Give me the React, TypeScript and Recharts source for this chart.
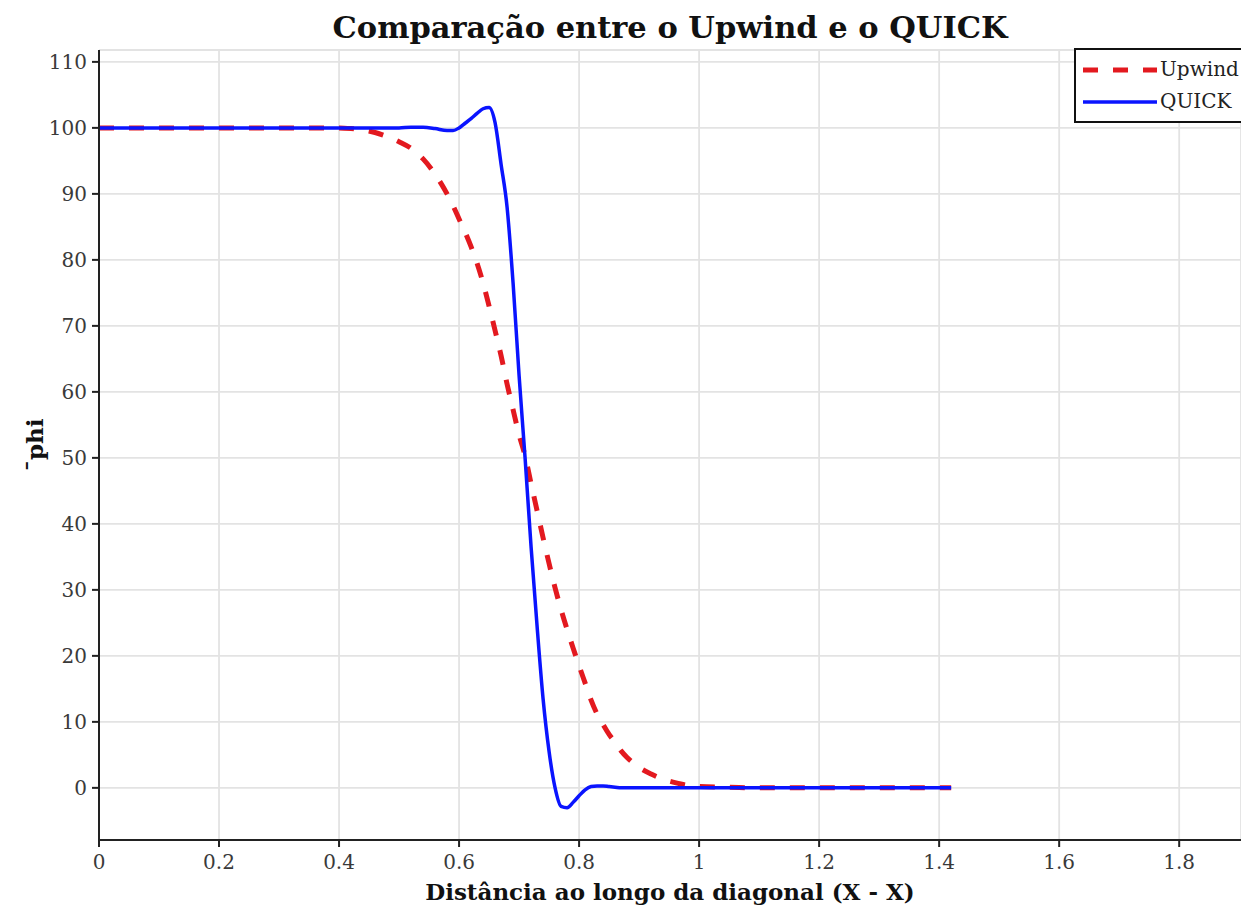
import React from 'react';
import { LineChart, Line, XAxis, YAxis, CartesianGrid, Legend, Label } from 'recharts';

// distance along the diagonal
const xValues = [
  0, 0.1, 0.2, 0.3, 0.4, 0.42, 0.44, 0.46, 0.48, 0.5, 0.52, 0.54, 0.56, 0.58,
  0.59, 0.6, 0.61, 0.62, 0.63, 0.64, 0.65, 0.66, 0.67, 0.68, 0.69, 0.7, 0.71, 0.72,
  0.73, 0.74, 0.75, 0.76, 0.77, 0.78, 0.79, 0.8, 0.81, 0.82, 0.83, 0.84, 0.85, 0.86,
  0.87, 0.88, 0.89, 0.9, 0.92, 0.94, 0.96, 0.98, 1.0, 1.05, 1.1, 1.2, 1.3, 1.42,
];

const upwind = [
  100, 100, 100, 100, 100, 99.9, 99.7, 99.3, 98.7, 97.9, 96.9, 95.3, 93.0, 90.0,
  88.2, 86.2, 84.2, 82, 79.5, 76.5, 73, 69.3, 65.5, 61.2, 57.3, 53.5, 50.3, 46.1,
  42, 37.9, 34, 30.3, 27, 24, 21.2, 18.5, 15.9, 13.3, 11.2, 9.6, 8.1, 6.9,
  5.6, 4.6, 3.8, 3.1, 2.1, 1.3, 0.8, 0.4, 0.2, 0.1, 0, 0, 0, 0,
];

const quick = [
  100, 100, 100, 100, 100, 100, 100, 100, 100, 100, 100.1, 100.1, 99.9, 99.6,
  99.6, 100, 100.7, 101.4, 102.2, 102.9, 103.1, 100.8, 94.5, 88, 76.5, 62.5, 50, 36.5,
  24.5, 13.5, 5.5, 0, -2.8, -3.0, -2.2, -1.2, -0.3, 0.2, 0.3, 0.3, 0.2, 0.1,
  0, 0, 0, 0, 0, 0, 0, 0, 0, 0, 0, 0, 0, 0,
];

const xTicks = [0, 0.2, 0.4, 0.6, 0.8, 1, 1.2, 1.4, 1.6, 1.8];
const yTicks = [0, 10, 20, 30, 40, 50, 60, 70, 80, 90, 100, 110];

const data = xValues.map((x, i) => ({ x, Upwind: upwind[i], QUICK: quick[i] }));

const serif = '"DejaVu Serif", serif';

const LegendBox = () => (
  <div
    style={{
      position: 'relative',
      width: 180,
      height: 75,
      boxSizing: 'border-box',
      border: '2px solid #111',
      background: '#fff',
      fontFamily: serif,
      fontSize: 20,
      color: '#222',
    }}
  >
    <svg width={80} height={70} style={{ position: 'absolute', left: 7, top: 0 }}>
      <line x1={0} y1={20} x2={74} y2={20} stroke="#e3191f" strokeWidth={5} strokeDasharray="15 15" />
      <line x1={0} y1={52} x2={74} y2={52} stroke="#0a14ff" strokeWidth={3.5} />
    </svg>
    <div style={{ position: 'absolute', left: 84, top: 6, lineHeight: '26px' }}>Upwind</div>
    <div style={{ position: 'absolute', left: 84, top: 38, lineHeight: '26px' }}>QUICK</div>
  </div>
);

export default function App() {
  return (
    <div style={{ position: 'absolute', left: 0, top: 0, width: 1241, height: 906, overflow: 'hidden', background: '#fff' }}>
      <div
        style={{
          position: 'absolute',
          left: 99,
          width: 1142,
          top: 12,
          textAlign: 'center',
          fontFamily: serif,
          fontWeight: 'bold',
          fontSize: 30.5,
          lineHeight: '31px',
          color: '#111',
        }}
      >
        Comparação entre o Upwind e o QUICK
      </div>
      <LineChart width={1241} height={906} data={data} margin={{ top: 50, right: 0, left: 0, bottom: 0 }}>
        <CartesianGrid stroke="#e3e3e3" strokeWidth={1.8} />
        <XAxis
          dataKey="x"
          type="number"
          domain={[0, 1.903]}
          ticks={xTicks}
          allowDataOverflow
          height={66}
          tickSize={7}
          tickMargin={8}
          tickFormatter={(v: number) => String(Number(v.toFixed(1)))}
          tick={{ fill: '#3a3a3a', fontSize: 20, fontFamily: serif }}
          axisLine={{ stroke: '#222', strokeWidth: 2 }}
          tickLine={{ stroke: '#222', strokeWidth: 2 }}
        >
          <Label
            value="Distância ao longo da diagonal (X - X)"
            position="insideBottom"
            offset={6}
            style={{ fontFamily: serif, fontWeight: 'bold', fontSize: 23, fill: '#111' }}
          />
        </XAxis>
        <YAxis
          type="number"
          domain={[-7.9, 111.8]}
          ticks={yTicks}
          allowDataOverflow
          width={99}
          tickSize={7}
          tickMargin={5}
          tick={{ fill: '#3a3a3a', fontSize: 20, fontFamily: serif }}
          axisLine={{ stroke: '#222', strokeWidth: 2 }}
          tickLine={{ stroke: '#222', strokeWidth: 2 }}
        >
          <Label
            value="¯phi"
            angle={-90}
            position="insideLeft"
            offset={35}
            style={{ textAnchor: 'middle', fontFamily: serif, fontWeight: 'bold', fontSize: 23, fill: '#111' }}
          />
        </YAxis>
        <Legend
          layout="horizontal"
          align="center"
          verticalAlign="middle"
          wrapperStyle={{ left: 1074, top: 48, width: 180 }}
          content={() => <LegendBox />}
        />
        <Line
          type="monotone"
          dataKey="Upwind"
          stroke="#e3191f"
          strokeWidth={5}
          strokeDasharray="15 15"
          dot={false}
          isAnimationActive={false}
        />
        <Line
          type="monotone"
          dataKey="QUICK"
          stroke="#0a14ff"
          strokeWidth={3.5}
          dot={false}
          isAnimationActive={false}
        />
      </LineChart>
    </div>
  );
}
